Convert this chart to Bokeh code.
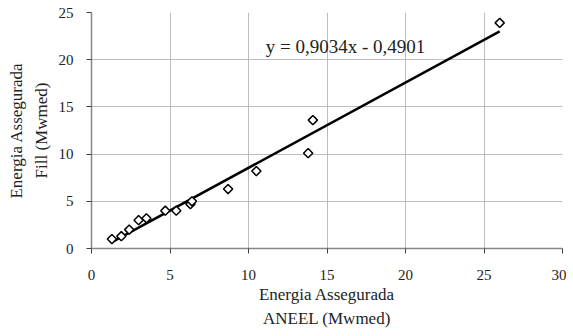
import numpy as np
from bokeh.plotting import figure
from bokeh.models import Label, SingleIntervalTicker, Range1d
from bokeh.embed import file_html
from bokeh.resources import INLINE

# Data
aneel = [1.3, 1.9, 2.4, 3.0, 3.5, 4.7, 5.4, 6.3, 6.4, 8.7, 10.5, 13.8, 14.1, 26.0]
fill = [1.0, 1.3, 2.0, 3.0, 3.2, 4.0, 4.0, 4.7, 5.0, 6.3, 8.2, 10.1, 13.6, 23.9]
slope = 0.9034
intercept = -0.4901
equation = "y = 0,9034x - 0,4901"
x_label = "Energia Assegurada\nANEEL (Mwmed)"
y_label = "Energia Assegurada\nFill (Mwmed)"

FONT = "Liberation Serif"
TXT = "#222222"

p = figure(frame_width=471, frame_height=236,
           min_border_left=91, min_border_top=12, min_border_right=4, min_border_bottom=85,
           x_range=Range1d(0, 30), y_range=Range1d(0, 25),
           output_backend="svg", toolbar_location=None)
p.outline_line_color = None
p.background_fill_color = "white"
p.border_fill_color = "white"

for ax in (p.xaxis[0], p.yaxis[0]):
    ax.ticker = SingleIntervalTicker(interval=5)
    ax.minor_tick_line_color = None
    ax.axis_line_color = "#868686"
    ax.axis_line_width = 1.5
    ax.major_tick_line_color = "#404040"
    ax.major_tick_in = 0
    ax.major_tick_out = 5
    ax.major_label_text_font = FONT
    ax.major_label_text_font_size = "15px"
    ax.major_label_text_color = TXT
    ax.axis_label_text_font = FONT
    ax.axis_label_text_font_size = "17px"
    ax.axis_label_text_font_style = "normal"
    ax.axis_label_text_color = TXT
    ax.axis_label_text_line_height = 1.3

p.xaxis.axis_label = x_label
p.yaxis.axis_label = y_label
p.xaxis.major_label_standoff = 16
p.yaxis.major_label_standoff = 13
p.xaxis.axis_label_standoff = 2
p.yaxis.axis_label_standoff = 5

for g in (p.xgrid[0], p.ygrid[0]):
    g.ticker = SingleIntervalTicker(interval=5)
    g.grid_line_color = "#bdbdbd"
    g.grid_line_width = 1

xs = np.array([min(aneel), max(aneel)])
p.line(xs, slope * xs + intercept, line_color="black", line_width=2.5)

p.scatter(aneel, fill, marker="square", angle=np.pi / 4, size=6.5,
          fill_color="white", line_color="black", line_width=1.5)

p.add_layout(Label(x=11.1, y=21.4, text=equation, text_font=FONT,
                   text_font_size="19px", text_color=TXT,
                   text_baseline="alphabetic"))

open("out.html", "w").write(file_html(p, INLINE))
